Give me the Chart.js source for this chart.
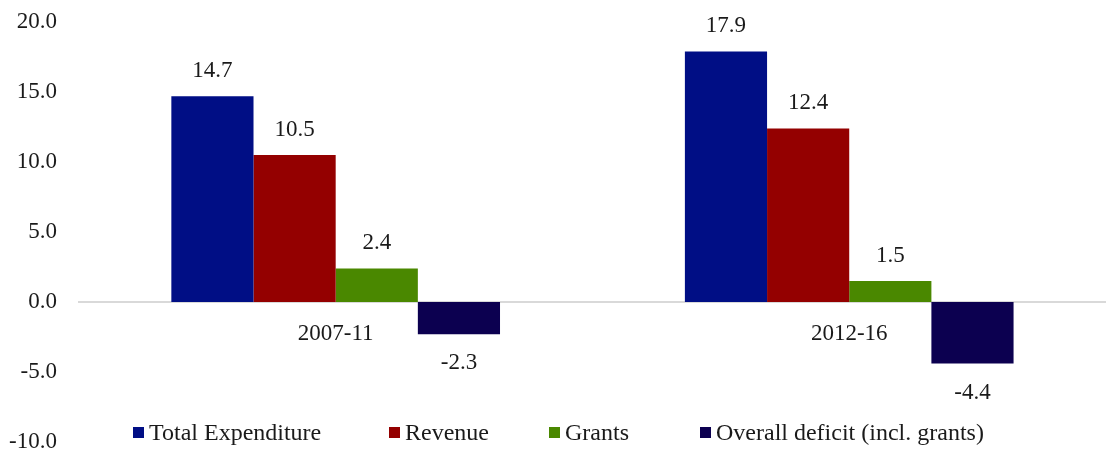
<!DOCTYPE html>
<html>
<head>
<meta charset="utf-8">
<script src="https://cdn.jsdelivr.net/npm/chart.js@4/dist/chart.umd.min.js"></script>
<style>
  html, body { margin: 0; padding: 0; background: #fff; }
  #wrap { position: relative; width: 1106px; height: 452px; }
  #legend { position: absolute; left: 0; top: 418px; width: 1106px; height: 28px;
            font-family: "Liberation Serif", "Times New Roman", serif; font-size: 24px; color: #1a1a1a; }
  .item { position: absolute; top: 0; white-space: nowrap; line-height: 28px; }
  .item span.box { display: inline-block; width: 11px; height: 11px; margin-right: 5px; vertical-align: 2px; }
</style>
</head>
<body>
<div id="wrap">
  <canvas id="grafica" width="1106" height="452"></canvas>
  <div id="legend"></div>
</div>
<script>
//Datos del gráfico
const categorias = ['2007-11', '2012-16'];
const series = ['Total Expenditure', 'Revenue', 'Grants', 'Overall deficit (incl. grants)'];
const gastoTotal = [14.7, 17.9];
const ingresos = [10.5, 12.4];
const donaciones = [2.4, 1.5];
const deficit = [-2.3, -4.4];
const ticksY = [-10, -5, 0, 5, 10, 15, 20];

const colores = ['#000e85', '#940000', '#4a8800', '#0c0050'];
const fuente = '"Liberation Serif", "Times New Roman", serif';
const legendX = [133, 389, 549, 700];

//Etiquetas de valor encima/debajo de cada barra
const etiquetasPlugin = {
    id: 'etiquetas',
    afterDatasetsDraw(chart) {
        const ctx = chart.ctx;
        ctx.save();
        ctx.font = '23px ' + fuente;
        ctx.fillStyle = '#1a1a1a';
        ctx.textAlign = 'center';
        ctx.textBaseline = 'middle';
        chart.data.datasets.forEach((ds, i) => {
            chart.getDatasetMeta(i).data.forEach((bar, j) => {
                const v = ds.data[j];
                const y = v >= 0 ? bar.y - 25 : bar.y + 29;
                ctx.fillText(v.toFixed(1), bar.x, y);
            });
        });
        ctx.restore();
    }
};

const datos = [gastoTotal, ingresos, donaciones, deficit];

new Chart(document.getElementById('grafica').getContext('2d'), {
    type: 'bar',
    data: {
        labels: categorias,
        datasets: series.map((nombre, i) => ({
            label: nombre,
            data: datos[i],
            backgroundColor: colores[i],
            borderWidth: 0,
            categoryPercentage: 0.64,
            barPercentage: 1.0
        }))
    },
    options: {
        responsive: false,
        animation: false,
        layout: { padding: { top: 22, left: -5, right: 0, bottom: 10 } },
        plugins: {
            legend: { display: false },
            tooltip: { enabled: false }
        },
        scales: {
            x: {
                position: { y: 0 },
                grid: { display: false, drawTicks: false },
                border: { display: true, color: '#d9d9d9', width: 2 },
                ticks: { font: { family: fuente, size: 23 }, color: '#1a1a1a', padding: 18 }
            },
            y: {
                min: -10,
                max: 20,
                afterBuildTicks(scale) { scale.ticks = ticksY.map(v => ({ value: v })); },
                afterFit(scale) { scale.paddingTop = 0; scale.paddingBottom = 0; },
                grid: { display: false },
                border: { display: false },
                ticks: {
                    font: { family: fuente, size: 23 },
                    color: '#1a1a1a',
                    padding: 14,
                    autoSkip: false,
                    callback: v => Number(v).toFixed(1)
                }
            }
        }
    },
    plugins: [etiquetasPlugin]
});

//Leyenda en HTML
const leyenda = document.getElementById('legend');
series.forEach((nombre, i) => {
    const d = document.createElement('div');
    d.className = 'item';
    d.style.left = legendX[i] + 'px';
    d.innerHTML = '<span class="box" style="background:' + colores[i] + '"></span>' + nombre;
    leyenda.appendChild(d);
});
</script>
</body>
</html>
